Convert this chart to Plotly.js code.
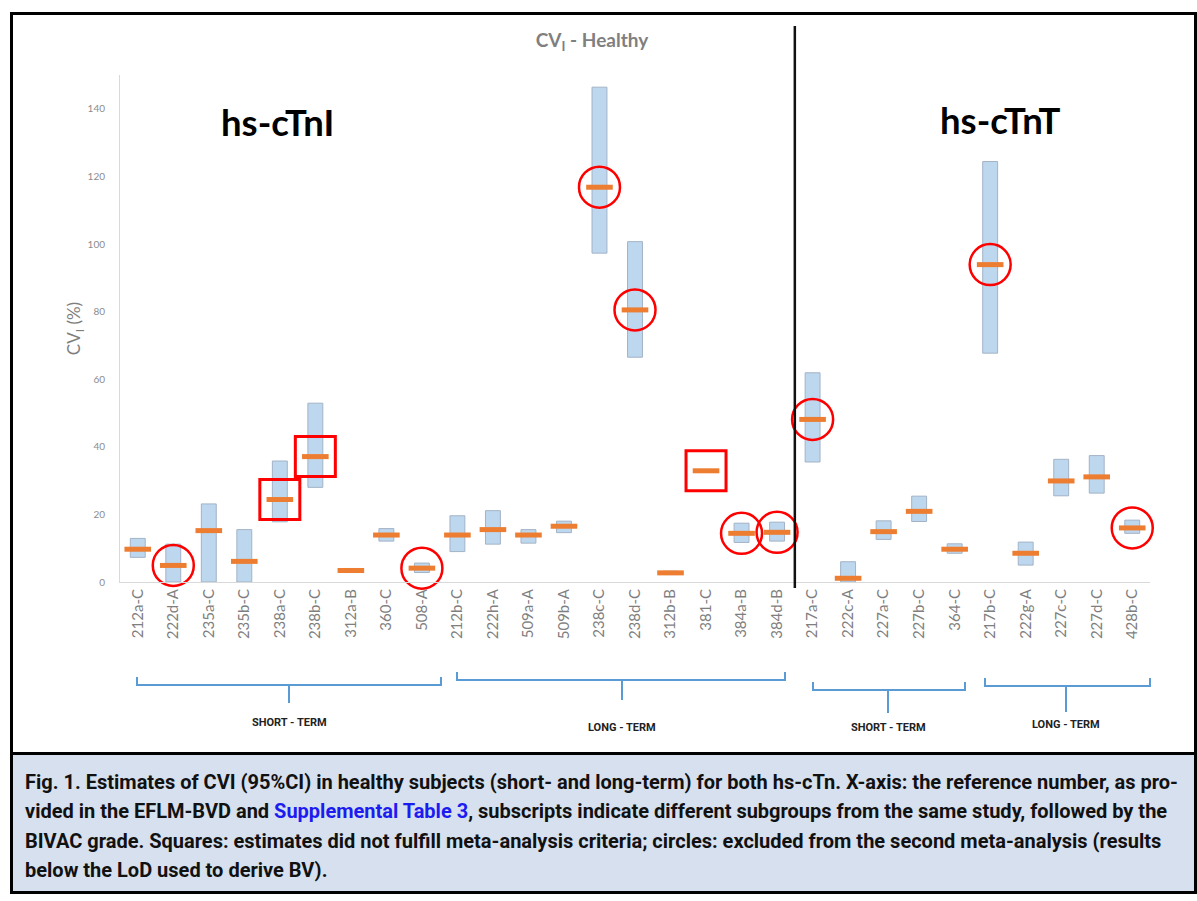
<!DOCTYPE html>
<html>
<head>
<meta charset="utf-8">
<script src="https://cdn.plot.ly/plotly-3.0.1.min.js"></script>
<style>
html,body{margin:0;padding:0;background:#fff;}
#chart{width:1197px;height:901px;}
</style>
</head>
<body>
<div id="chart"></div>
<script>
// ---- data ----
const categories = ["212a-C","222d-A","235a-C","235b-C","238a-C","238b-C","312a-B","360-C","508-A",
  "212b-C","222h-A","509a-A","509b-A","238c-C","238d-C","312b-B","381-C","384a-B","384d-B",
  "217a-C","222c-A","227a-C","227b-C","364-C",
  "217b-C","222g-A","227c-C","227d-C","428b-C"];
const ciLow  = [7.3, 0, 0, 0, 17.8, 28.0, 2.8, 12.1, 2.8,
  9.0, 11.2, 11.5, 14.6, 97.3, 66.5, 2.2, null, 11.7, 12.1,
  35.5, 0, 12.6, 17.9, 8.5,
  67.7, 5.0, 25.5, 26.3, 14.4];
const ciHigh = [12.9, 11.2, 23.1, 15.5, 35.8, 52.9, 4.0, 15.8, 5.6,
  19.6, 21.1, 15.5, 18.0, 146.4, 100.7, 3.2, null, 17.4, 17.7,
  61.9, 6.0, 18.1, 25.4, 11.3,
  124.4, 11.8, 36.3, 37.4, 18.3];
const estimate = [9.7, 4.9, 15.2, 6.1, 24.4, 37.1, 3.4, 13.9, 4.1,
  13.9, 15.5, 13.9, 16.5, 116.8, 80.5, 2.7, 32.9, 14.4, 14.7,
  48.1, 1.1, 14.9, 20.9, 9.7,
  93.9, 8.5, 29.9, 31.1, 16.0];
const circled = ["222d-A","508-A","238c-C","238d-C","384a-B","384d-B","217a-C","217b-C","428b-C"];
const squared = ["238a-C","238b-C","381-C"];
const yTicks = [0,20,40,60,80,100,120,140];
const dividerAfter = "384d-B"; // hs-cTnI | hs-cTnT split
const groups = [
  {label:"SHORT - TERM", from:"212a-C", to:"508-A"},
  {label:"LONG - TERM",  from:"212b-C", to:"384d-B"},
  {label:"SHORT - TERM", from:"217a-C", to:"364-C"},
  {label:"LONG - TERM",  from:"217b-C", to:"428b-C"}
];

// ---- layout helpers (pixel -> paper) ----
const ML=120, MR=47, MT=75, MB=319, W=1197, H=901;
const PW=W-ML-MR, PH=H-MT-MB;
const PX = x => (x-ML)/PW;
const PY = y => (H-MB-y)/PH;
const idx = c => categories.indexOf(c);

// ---- traces ----
const boxBase = ciLow.map((l,i)=> (l==null||ciHigh[i]==null)? null : l);
const boxLen  = ciLow.map((l,i)=> (l==null||ciHigh[i]==null)? null : ciHigh[i]-l);

const bars = {
  type:'bar', x:categories, y:boxLen, base:boxBase, width:0.42,
  marker:{color:'#bdd7ee', line:{color:'#a3b3c6', width:1}},
  hoverinfo:'skip'
};
const meds = {
  type:'scatter', mode:'markers', x:categories, y:estimate, cliponaxis:false,
  marker:{symbol:'line-ew', size:19, color:'#ed7d31', line:{color:'#ed7d31', width:5}},
  hoverinfo:'x+y'
};
const circ = {
  type:'scatter', mode:'markers', x:circled, y:circled.map(c=>estimate[idx(c)]), cliponaxis:false,
  marker:{symbol:'circle-open', size:41, color:'#ff0000', line:{color:'#ff0000', width:2.5}},
  hoverinfo:'skip'
};
const sq = {
  type:'scatter', mode:'markers', x:squared, y:squared.map(c=>estimate[idx(c)]), cliponaxis:false,
  marker:{symbol:'square-open', size:40, color:'#ff0000', line:{color:'#ff0000', width:3}},
  hoverinfo:'skip'
};

// ---- shapes ----
const shapes = [];
shapes.push({type:'rect', xref:'paper', yref:'paper', x0:PX(11), x1:PX(1196), y0:PY(893), y1:PY(753),
  fillcolor:'#d6e0ee', line:{width:0}, layer:'below'});
shapes.push({type:'rect', xref:'paper', yref:'paper', x0:PX(11.5), x1:PX(1195.5), y0:PY(892.5), y1:PY(13.5),
  line:{color:'#000', width:3}});
shapes.push({type:'line', xref:'paper', yref:'paper', x0:PX(11), x1:PX(1196), y0:PY(753.5), y1:PY(753.5),
  line:{color:'#000', width:3}});
shapes.push({type:'line', xref:'x', yref:'paper', x0:idx(dividerAfter)+0.5, x1:idx(dividerAfter)+0.5,
  y0:PY(588), y1:PY(26), line:{color:'#111', width:2.5}});

const bracketGeo = [
  {x0:137, x1:441, y:685, stem:289, yb:703, ty:722},
  {x0:457, x1:785, y:680, stem:622, yb:700, ty:727},
  {x0:813, x1:965, y:690, stem:888, yb:713, ty:727},
  {x0:985, x1:1150, y:686, stem:1066, yb:712, ty:724}
];
const annotations = [];
groups.forEach((g,i)=>{
  const b = bracketGeo[i];
  const p = `M ${PX(b.x0)},${PY(b.y-8)} L ${PX(b.x0)},${PY(b.y)} L ${PX(b.x1)},${PY(b.y)} L ${PX(b.x1)},${PY(b.y-8)} M ${PX(b.stem)},${PY(b.y)} L ${PX(b.stem)},${PY(b.yb)}`;
  shapes.push({type:'path', xref:'paper', yref:'paper', path:p, line:{color:'#5b9bd5', width:2}});
  annotations.push({xref:'paper', yref:'paper', x:PX(b.stem), y:PY(b.ty), text:g.label, showarrow:false,
    xanchor:'center', yanchor:'middle', font:{family:'Roboto', size:11, color:'#222', weight:'bold'}});
});

annotations.push({xref:'paper', yref:'paper', x:PX(277), y:PY(122), text:'hs-cTnI', showarrow:false,
  xanchor:'center', yanchor:'middle', font:{family:'Lato', size:36.5, color:'#000', weight:'bold'}});
annotations.push({xref:'paper', yref:'paper', x:PX(1000), y:PY(120), text:'hs-cTnT', showarrow:false,
  xanchor:'center', yanchor:'middle', font:{family:'Lato', size:36.5, color:'#000', weight:'bold'}});

const capFont = {family:'Roboto', size:20, color:'#111', weight:'bold'};
const capLines = [
  '<b>Fig. 1.</b> Estimates of CVI (95%CI) in healthy subjects (short- and long-term) for both hs-cTn. X-axis: the reference number, as pro-',
  'vided in the EFLM-BVD and <span style="color:#1c1cf0">Supplemental Table 3</span>, subscripts indicate different subgroups from the same study, followed by the',
  'BIVAC grade. Squares: estimates did not fulfill meta-analysis criteria; circles: excluded from the second meta-analysis (results',
  'below the LoD used to derive BV).'
];
const capY = [782, 811, 841, 870];
capLines.forEach((t,i)=>{
  annotations.push({xref:'paper', yref:'paper', x:PX(23), y:PY(capY[i]), text:t, showarrow:false,
    xanchor:'left', yanchor:'middle', align:'left', font:capFont});
});

const layout = {
  width:W, height:H,
  margin:{l:ML, r:MR, t:MT, b:MB},
  paper_bgcolor:'#ffffff', plot_bgcolor:'#ffffff',
  showlegend:false,
  title:{text:'CV<sub>I</sub> - Healthy', x:PX(592), xref:'paper', xanchor:'center', y:1-40/H, yanchor:'middle',
    font:{family:'Lato', size:19, color:'#7f7f7f', weight:'bold'}},
  xaxis:{type:'category', categoryorder:'array', categoryarray:categories, range:[-0.5, categories.length-0.5],
    tickangle:-90, tickfont:{family:'Lato', size:15, color:'#7f7f7f'},
    showline:true, linecolor:'#d9d9d9', linewidth:1, showgrid:false, zeroline:false, ticks:'', automargin:false},
  yaxis:{range:[0,150], tickvals:yTicks, ticktext:yTicks.map(String), tickfont:{family:'Lato', size:10, color:'#8c8c8c'},
    showline:true, linecolor:'#d9d9d9', linewidth:1, showgrid:false, zeroline:false, ticks:'', ticklabelstandoff:12,
    title:{text:'CV<sub>I</sub> (%)', font:{family:'Lato', size:17, color:'#7f7f7f'}, standoff:2}, automargin:false},
  shapes:shapes,
  annotations:annotations
};

Plotly.newPlot('chart', [bars, meds, circ, sq], layout, {displayModeBar:false, staticPlot:true});
</script>
</body>
</html>
